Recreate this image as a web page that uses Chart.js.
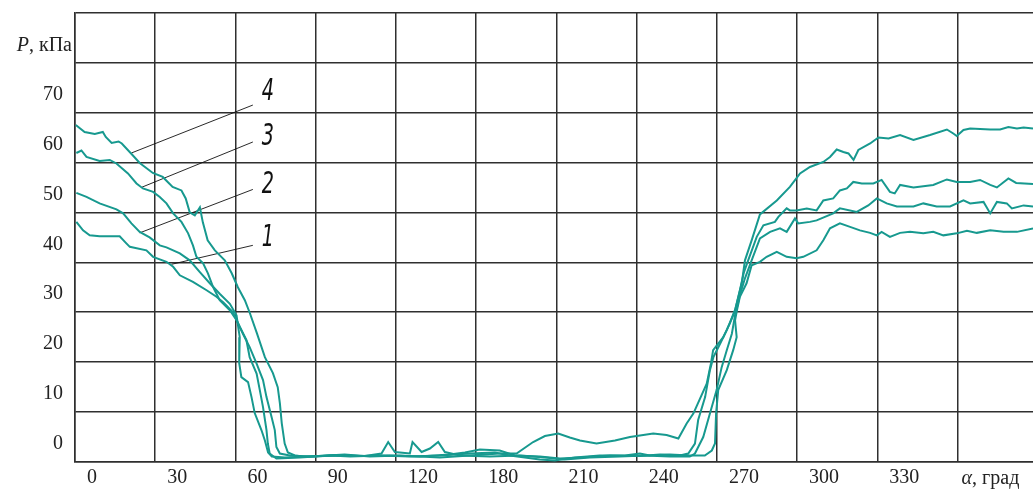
<!DOCTYPE html>
<html><head><meta charset="utf-8">
<script src="https://cdn.jsdelivr.net/npm/chart.js@4/dist/chart.umd.min.js"></script>
<style>html,body{margin:0;padding:0;background:#fff;}canvas{display:block}</style>
</head><body>
<canvas id="c" width="1033" height="494"></canvas>
<script>
// ---- tick values / labels (labels as printed in the original figure) ----
const angleTicks = [0,30,60,90,120,150,180,210,240,270,300,330];
const angleTickLabels = ['0','30','60','90','120','180','210','240','270','300','330',''];
const pressureTicks = [0,10,20,30,40,50,60,70,80,90];
const pressureTickLabels = ['0','10','20','30','40','50','60','70','',''];
const yUnitItalic = 'P', yUnitRest = ', кПа';
const xUnitItalic = 'α', xUnitRest = ', град';

// ---- curves: [angle, pressure] ----
const curve1 = [[0.5,48.1],[3.0,46.4],[5.5,45.4],[9.2,45.2],[16.7,45.2],[19.2,43.8],[20.5,43.1],[26.7,42.4],[29.2,41.1],[34.2,40.1],[36.7,39.1],[39.2,37.4],[44.1,36.1],[49.2,34.4],[52.9,33.1],[55.4,32.0],[59.1,30.0],[61.6,27.1],[64.1,24.4],[65.3,21.0],[67.9,17.7],[69.1,14.4],[70.3,11.0],[71.6,6.4],[72.1,3.7],[72.8,1.7],[75.3,0.7],
[84.0,0.9],[95.5,1.3],[102.9,1.1],[114.1,1.3],[125.2,1.1],[136.4,1.3],[147.6,1.7],[157.0,1.9],[162.6,1.3],[173.8,0.5],[179.4,0.3],[186.9,0.9],[196.2,1.3],[205.6,1.3],[211.2,1.7],[214.9,1.3],[222.4,1.5],[229.9,1.3],[235.5,1.3],
[238.1,2.3],[239.3,3.7],[239.7,9.7],[240.5,14.4],[243.7,18.4],[246.1,22.4],[247.4,25.0],[246.8,28.4],[247.5,30.4],[248.6,33.1],[251.1,35.8],[253.0,39.4],[256.1,40.1],[258.6,41.1],[262.4,42.1],[266.1,41.1],[269.8,40.8],[272.3,41.1],[277.3,42.4],[279.8,44.4],[282.3,46.8],[286.0,47.8],[289.8,47.1],[293.5,46.4],[297.3,45.9],[299.8,45.4],[301.6,46.1],[304.7,45.1],[308.5,45.9],[312.2,46.1],[317.2,45.8],[320.9,46.1],[324.7,45.4],[329.7,45.8],[333.5,46.3],[337.2,45.9],[342.2,46.4],[347.2,46.1],[352.2,46.1],[358.2,46.8]];

const curve2 = [[0.5,53.9],[4.3,53.1],[9.2,51.8],[15.5,50.6],[18.0,49.8],[21.1,47.8],[24.2,46.1],[27.9,45.0],[31.7,43.4],[34.2,43.0],[39.2,41.8],[42.9,40.4],[46.6,38.1],[50.4,35.8],[54.1,33.7],[57.9,31.7],[60.4,29.4],[61.2,26.4],[61.6,25.0],[61.4,19.8],[62.2,17.0],[64.7,16.0],[66.0,13.0],[67.2,9.8],[69.7,6.4],[71.0,4.3],[72.2,1.9],[73.6,1.1],[78.4,0.9],
[87.8,1.1],[99.0,1.3],[108.4,1.2],[114.6,1.7],[117.1,4.0],[119.6,2.0],[125.2,1.7],[126.2,4.0],[129.6,2.0],[132.7,2.7],[135.8,4.0],[138.3,2.0],[143.9,1.3],[155.1,1.1],[166.3,1.3],[175.7,0.9],[183.1,0.5],[192.5,0.9],[203.7,1.1],[213.0,1.3],[222.4,1.1],[229.9,1.1],[231.8,1.7],
[234.9,5.0],[237.4,9.7],[239.9,14.4],[241.8,19.0],[243.7,22.4],[245.6,25.7],[246.8,29.4],[248.6,33.4],[250.5,36.8],[253.0,40.4],[256.1,44.8],[259.9,46.1],[263.6,46.8],[266.1,46.1],[269.2,48.8],[270.4,47.8],[274.8,48.1],[277.3,48.4],[283.5,49.8],[286.0,50.8],[292.3,50.1],[296.6,51.4],[299.8,52.8],[303.5,51.8],[307.3,51.2],[313.5,51.2],[317.2,51.8],[322.2,51.2],[327.2,51.2],[332.2,52.4],[334.7,51.8],[339.7,52.1],[342.2,49.8],[344.7,52.1],[348.4,51.8],[350.3,50.8],[354.7,51.4],[358.2,51.2]];

const curve3 = [[0.5,61.9],[2.4,62.4],[4.3,61.1],[9.2,60.3],[13.0,60.5],[15.5,59.8],[19.8,57.8],[23.0,55.8],[25.4,54.8],[29.2,54.1],[31.7,53.1],[34.2,51.8],[36.7,49.8],[39.8,48.1],[42.3,45.8],[44.1,43.4],[45.4,41.1],[47.9,39.8],[49.7,37.8],[51.6,35.1],[54.1,32.4],[57.9,30.4],[60.4,28.4],[62.8,25.7],[65.3,23.0],[67.9,19.7],[70.3,16.4],[71.6,13.0],[73.5,9.0],[74.7,6.4],[75.3,3.0],[76.6,1.7],[80.3,1.3],
[87.8,1.1],[97.1,1.4],[106.5,1.2],[117.7,1.3],[128.9,1.1],[140.1,1.5],[145.8,1.9],[151.4,2.5],[158.8,2.3],[164.5,1.3],[173.8,1.1],[181.3,0.7],[188.8,0.9],[200.0,1.3],[211.2,1.2],[218.7,1.5],[226.2,1.3],[229.3,1.7],
[231.8,3.7],[233.0,8.4],[235.6,13.0],[237.4,18.4],[238.7,21.0],[241.2,23.7],[243.7,26.4],[246.8,30.4],[248.6,34.4],[250.1,38.0],[251.7,40.4],[254.9,45.1],[257.4,47.4],[261.7,48.1],[263.0,49.1],[266.1,50.8],[267.3,50.4],[269.8,50.4],[273.6,50.8],[277.3,50.4],[279.8,52.4],[283.5,52.8],[286.0,54.4],[288.6,54.8],[291.0,56.1],[294.2,55.8],[298.5,55.8],[301.6,56.5],[304.7,54.1],[306.5,53.8],[308.5,55.5],[313.5,55.0],[320.9,55.5],[326.0,56.6],[329.7,56.1],[334.7,56.1],[338.4,56.5],[342.2,55.5],[344.7,55.0],[349.0,56.8],[351.9,55.9],[358.2,55.7]];

const curve4 = [[0.3,67.5],[3.6,66.1],[7.4,65.7],[10.4,66.1],[11.5,65.1],[13.7,63.9],[16.3,64.2],[17.5,63.8],[20.8,61.9],[24.2,59.9],[29.1,57.9],[32.8,57.1],[36.5,55.1],[39.8,54.4],[41.4,52.8],[42.9,50.0],[44.8,49.4],[46.7,51.0],[47.8,48.0],[49.6,44.4],[52.3,42.4],[56.0,40.4],[58.6,37.8],[60.9,35.0],[63.5,32.4],[65.4,29.8],[68.0,25.8],[71.0,21.0],[74.0,17.8],[75.8,15.0],[76.6,11.8],[77.3,7.8],[78.4,3.7],[79.6,1.9],[82.2,1.3],[85.2,1.1],
[91.5,1.2],[100.8,1.5],[110.2,1.1],[121.4,1.3],[136.4,0.9],[147.6,1.3],[158.8,1.7],[165.1,1.7],[171.3,4.0],[175.7,5.2],[180.7,5.7],[185.0,4.9],[188.8,4.3],[195.0,3.7],[201.9,4.3],[207.5,5.0],[216.2,5.7],[221.2,5.4],[225.6,4.7],
[228.7,7.7],[231.2,9.7],[236.2,15.7],[237.8,19.8],[238.6,22.4],[242.4,25.0],[244.9,27.8],[246.8,30.4],[249.3,35.8],[250.5,40.4],[253.0,44.4],[256.1,49.6],[262.4,52.4],[267.3,55.1],[271.1,57.8],[274.8,59.1],[279.8,60.1],[282.3,61.1],[284.8,62.6],[287.3,62.1],[289.2,61.8],[291.1,60.5],[292.9,62.5],[297.3,63.8],[300.4,65.0],[304.2,64.8],[308.5,65.5],[313.5,64.5],[319.7,65.5],[326.0,66.6],[328.4,65.8],[329.7,65.3],[332.2,66.5],[334.7,66.8],[342.2,66.6],[345.9,66.6],[349.0,67.1],[352.2,66.8],[354.7,67.0],[358.2,66.8]];

// ---- leader lines and curve numbers ----
const leader1 = [[36.1,39.6],[66.5,43.4]];
const leader2 = [[24.2,45.9],[66.5,54.6]];
const leader3 = [[24.8,55.0],[66.5,64.1]];
const leader4 = [[21.1,61.9],[66.5,71.5]];
const curveLabelText = ['1','2','3','4'];
const curveLabelX = [72.1,72.1,72.1,72.1];
const curveLabelY = [44.8,55.4,65.1,74.1];

const gridColor = '#2f2f2f';
const curveColor = '#17998f';
const tickColor = '#222';
const serif = '"Liberation Serif", "Times New Roman", serif';
const toPts = a => a.map(p => ({x: p[0], y: p[1]}));

const curveDs = (d) => ({data: toPts(d), showLine: true, borderColor: curveColor, borderWidth: 2, pointRadius: 0, tension: 0, fill: false});
const leaderDs = (d) => ({data: toPts(d), showLine: true, borderColor: '#111', borderWidth: 0.9, pointRadius: 0, tension: 0, fill: false});

const textPlugin = {
  id: 'textPlugin',
  afterDatasetsDraw(chart) {
    const {ctx, scales: {x, y}, chartArea} = chart;
    ctx.save();
    ctx.fillStyle = '#111';
    ctx.textAlign = 'center';
    ctx.textBaseline = 'middle';
    curveLabelText.forEach((t, i) => {
      const px = x.getPixelForValue(curveLabelX[i]);
      const py = y.getPixelForValue(curveLabelY[i]);
      ctx.save();
      ctx.translate(px, py);
      ctx.scale(0.62, 1);
      ctx.font = 'italic 200 31px "DejaVu Sans"';
      ctx.fillText(t, 0, 0);
      ctx.restore();
    });
    // y unit label
    ctx.fillStyle = tickColor;
    ctx.textAlign = 'left';
    const fItal = 'italic 20px ' + serif, fNorm = '20px ' + serif;
    ctx.font = fItal; const w1 = ctx.measureText(yUnitItalic).width;
    ctx.font = fNorm; const w2 = ctx.measureText(yUnitRest).width;
    const yx = chartArea.left - 3 - w1 - w2;
    const yy = y.getPixelForValue(80) - 17;
    ctx.font = fItal; ctx.fillText(yUnitItalic, yx, yy);
    ctx.font = fNorm; ctx.fillText(yUnitRest, yx + w1, yy);
    // x unit label
    const xx = x.getPixelForValue(330) + 4;
    const xy = chartArea.bottom + 17;
    ctx.font = fItal; const w3 = ctx.measureText(xUnitItalic).width;
    ctx.fillText(xUnitItalic, xx, xy);
    ctx.font = fNorm; ctx.fillText(xUnitRest, xx + w3, xy);
    ctx.restore();
  }
};

new Chart(document.getElementById('c'), {
  type: 'scatter',
  data: {datasets: [curveDs(curve1), curveDs(curve2), curveDs(curve3), curveDs(curve4),
                    leaderDs(leader1), leaderDs(leader2), leaderDs(leader3), leaderDs(leader4)]},
  options: {
    responsive: false, animation: false, devicePixelRatio: 1,
    layout: {padding: {top: 12.7, left: 0, right: 0, bottom: 0}},
    plugins: {legend: {display: false}, tooltip: {enabled: false}},
    scales: {
      x: {
        type: 'linear', min: 0, max: 358.2,
        afterBuildTicks: s => { s.ticks = angleTicks.map(v => ({value: v})); },
        afterFit: s => { s.height = 32; s.paddingLeft = 0; s.paddingRight = 0; },
        grid: {color: gridColor, lineWidth: 1.5, drawTicks: false},
        border: {color: gridColor, width: 1.5},
        ticks: {autoSkip: false, maxRotation: 0, minRotation: 0, align: 'start', labelOffset: 12, padding: 4,
                color: tickColor, font: {family: serif, size: 20},
                callback: (v, i) => angleTickLabels[i]}
      },
      y: {
        type: 'linear', min: 0, max: 90,
        afterBuildTicks: s => { s.ticks = pressureTicks.map(v => ({value: v})); },
        afterFit: s => { s.width = 75; s.paddingTop = 0; s.paddingBottom = 0; },
        grid: {color: gridColor, lineWidth: 1.5, drawTicks: false},
        border: {color: gridColor, width: 1.5},
        ticks: {autoSkip: false, labelOffset: -18, padding: 12, color: tickColor,
                font: {family: serif, size: 20},
                callback: (v, i) => pressureTickLabels[i]}
      }
    }
  },
  plugins: [textPlugin]
});
</script>
</body></html>
